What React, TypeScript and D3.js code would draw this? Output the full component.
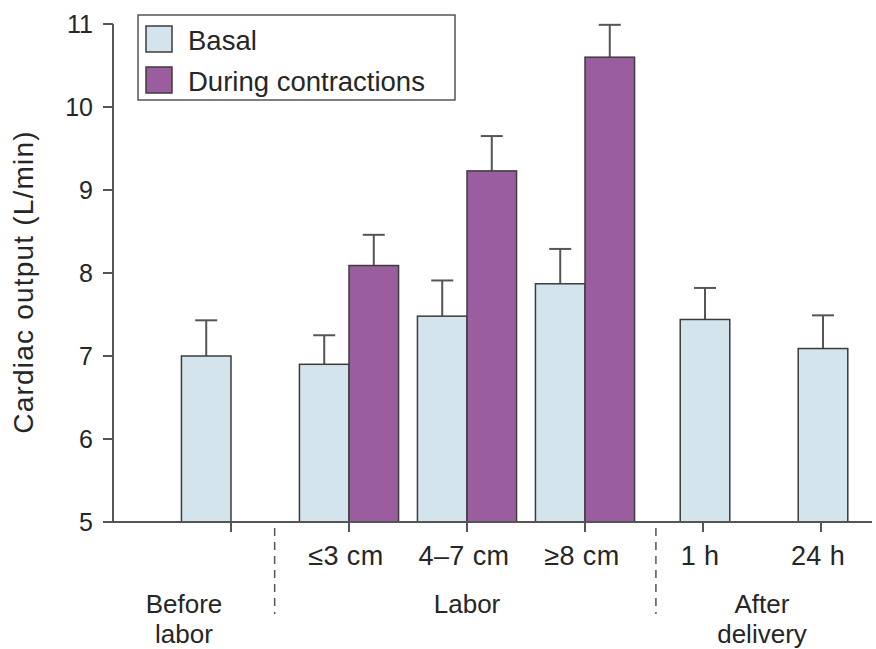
import React from "react";
import * as d3 from "d3";

// categories along the x axis
const categories = ["Before labor", "≤3 cm", "4–7 cm", "≥8 cm", "1 h", "24 h"];
const tickLabels = ["", "≤3 cm", "4–7 cm", "≥8 cm", "1 h", "24 h"];
const groupOf = ["before", "labor", "labor", "labor", "after", "after"];
const groupNames = ["before", "labor", "after"];
const groupLabels = [["Before", "labor"], ["Labor"], ["After", "delivery"]];

// cardiac output, L/min (mean and upper error)
const basal = [7.0, 6.9, 7.48, 7.87, 7.44, 7.09];
const basalErr = [7.43, 7.25, 7.91, 8.29, 7.82, 7.49];
const contractions = [null, 8.09, 9.23, 10.6, null, null];
const contractionsErr = [null, 8.46, 9.65, 10.99, null, null];

const yTicks = [5, 6, 7, 8, 9, 10, 11];
const legendItems = ["Basal", "During contractions"];

const W = 876;
const H = 649;
const FONT = "'Liberation Sans', Arial, Helvetica, sans-serif";
const TEXT = "#262626";
const AXIS = "#555";
const BASAL_FILL = "#d3e4ed";
const CONTR_FILL = "#9a5e9f";
const BAR_STROKE = "#3c3c3c";

export default function App() {
  const axisX = 113;
  const y = d3.scaleLinear().domain([5, 11]).range([522, 24]);
  const x = d3.scaleBand().domain(categories).range([172, 880]).padding(0);
  const bw = x.step() * 0.42;
  const cx = (c: string) => (x(c) as number) + x.bandwidth() / 2;

  // basal bar left edge per category
  const basalLeft = (i: number) => {
    const c = cx(categories[i]);
    if (groupOf[i] === "after") return c - bw / 2 + 2;
    return c - bw;
  };

  const sep1 = cx(categories[1]) - bw * 1.5;
  const sep2 = cx(categories[4]) - bw * 0.95;
  const groupX = [
    cx(categories[0]) - 47,
    cx(categories[2]),
    (cx(categories[4]) + cx(categories[5])) / 2,
  ];

  const errBar = (xc: number, v: number, e: number, key: string) => (
    <g key={key} stroke={AXIS} strokeWidth={2}>
      <line x1={xc} x2={xc} y1={y(v)} y2={y(e)} />
      <line x1={xc - 11} x2={xc + 11} y1={y(e)} y2={y(e)} />
    </g>
  );

  return (
    <svg width={W} height={H} style={{ position: "absolute", left: 0, top: 0, background: "#fff" }}
      fontFamily={FONT}>
      {/* bars */}
      {categories.map((c, i) => {
        const l = basalLeft(i);
        const cv = contractions[i];
        const ce = contractionsErr[i];
        return (
          <g key={c}>
            {errBar(l + bw / 2, basal[i], basalErr[i], "be" + i)}
            <rect x={l} y={y(basal[i])} width={bw} height={y(5) - y(basal[i])}
              fill={BASAL_FILL} stroke={BAR_STROKE} strokeWidth={1.5} />
            {cv != null && ce != null && (
              <>
                {errBar(l + bw * 1.5, cv, ce, "ce" + i)}
                <rect x={l + bw} y={y(cv)} width={bw} height={y(5) - y(cv)}
                  fill={CONTR_FILL} stroke={BAR_STROKE} strokeWidth={1.5} />
              </>
            )}
          </g>
        );
      })}

      {/* y axis */}
      <line x1={axisX} x2={axisX} y1={y(11)} y2={y(5)} stroke={AXIS} strokeWidth={2} />
      {yTicks.map((t) => (
        <g key={t}>
          <line x1={axisX - 10} x2={axisX} y1={y(t)} y2={y(t)} stroke={AXIS} strokeWidth={2} />
          <text x={axisX - 20} y={y(t)} dy="0.36em" textAnchor="end" fontSize={25} fill={TEXT}>
            {t}
          </text>
        </g>
      ))}
      <text transform={`translate(33,282) rotate(-90)`} textAnchor="middle"
        fontSize={28} letterSpacing={1.2} fill={TEXT}>
        Cardiac output (L/min)
      </text>

      {/* x axis */}
      <line x1={axisX - 10} x2={872} y1={y(5)} y2={y(5)} stroke={AXIS} strokeWidth={2} />
      {categories.map((c, i) => (
        <g key={"t" + c}>
          <line x1={cx(c)} x2={cx(c)} y1={y(5)} y2={y(5) + 10} stroke={AXIS} strokeWidth={2} />
          {tickLabels[i] && (
            <text x={cx(c) - 3} y={565} textAnchor="middle" fontSize={27} letterSpacing={0.4}
              fill={TEXT}>
              {tickLabels[i]}
            </text>
          )}
        </g>
      ))}
      {[sep1, sep2].map((s, i) => (
        <line key={"s" + i} x1={s} x2={s} y1={y(5) + 6} y2={614} stroke={AXIS} strokeWidth={1.5}
          strokeDasharray="8 6" />
      ))}
      {groupNames.map((g, i) => (
        <text key={g} x={groupX[i]} y={613} textAnchor="middle" fontSize={26} fill={TEXT}>
          {groupLabels[i].map((s, j) => (
            <tspan key={j} x={groupX[i]} dy={j === 0 ? 0 : 30}>{s}</tspan>
          ))}
        </text>
      ))}

      {/* legend */}
      <rect x={138} y={15} width={317} height={85} fill="#fff" stroke={AXIS} strokeWidth={1.5} />
      {legendItems.map((s, i) => (
        <g key={s}>
          <rect x={146} y={26 + i * 41} width={26} height={26} fill={i === 0 ? BASAL_FILL : CONTR_FILL}
            stroke={BAR_STROKE} strokeWidth={1.5} />
          <text x={188} y={50 + i * 41} fontSize={27.5} fill={TEXT}>{s}</text>
        </g>
      ))}
    </svg>
  );
}
